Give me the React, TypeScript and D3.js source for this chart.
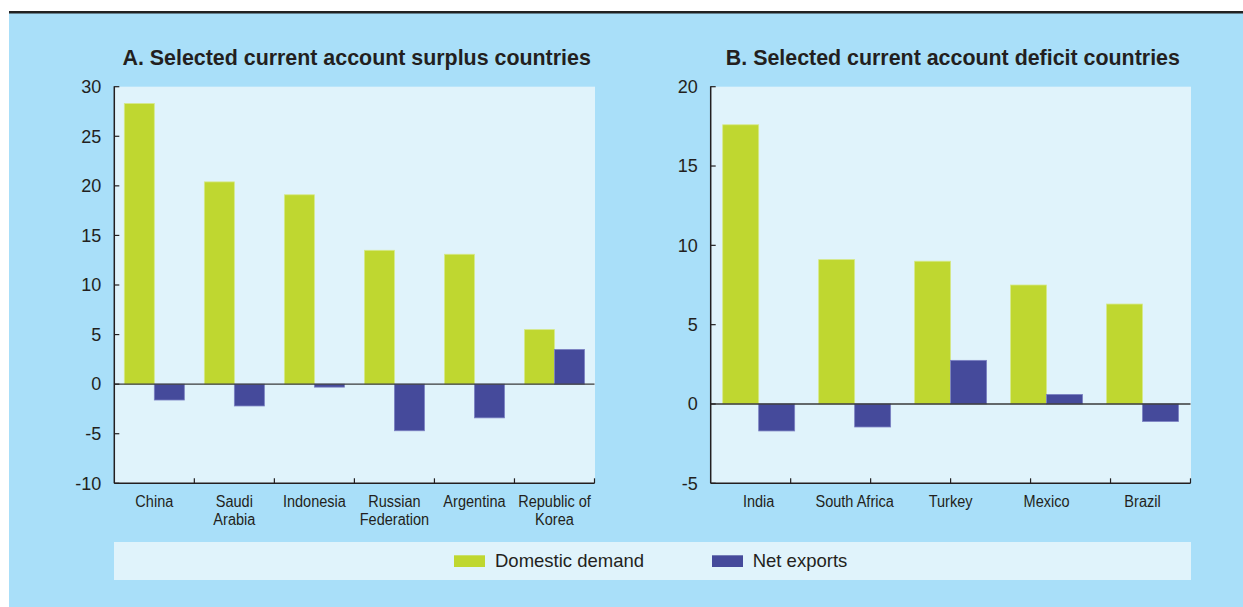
import React from "react";
import * as d3 from "d3";

const categoriesA = ["China", "Saudi\nArabia", "Indonesia", "Russian\nFederation", "Argentina", "Republic of\nKorea"];
const domesticA = [28.3, 20.4, 19.1, 13.5, 13.1, 5.5];
const netExportsA = [-1.6, -2.2, -0.3, -4.7, -3.4, 3.5];
const ticksA = [-10, -5, 0, 5, 10, 15, 20, 25, 30];

const categoriesB = ["India", "South Africa", "Turkey", "Mexico", "Brazil"];
const domesticB = [17.6, 9.1, 9.0, 7.5, 6.3];
const netExportsB = [-1.7, -1.45, 2.75, 0.6, -1.1];
const ticksB = [-5, 0, 5, 10, 15, 20];

const seriesNames = ["Domestic demand", "Net exports"];
const titleA = "A. Selected current account surplus countries";
const titleB = "B. Selected current account deficit countries";

const C = {
  outer: "#a9dff9",
  plot: "#e0f3fb",
  green: "#bfd730",
  greenEdge: "#d6e98a",
  navy: "#454a9b",
  navyEdge: "#7b80c2",
  text: "#231f20",
};
const FONT = "'Liberation Sans', Arial, sans-serif";

type PanelProps = {
  title: string;
  cats: string[];
  dom: number[];
  net: number[];
  ticks: number[];
  x0: number;
  x1: number;
  bgRight: number;
  y0: number;
  y1: number;
  nTickIntervals: number;
};

function Panel(p: PanelProps) {
  const y = d3.scaleLinear().domain([p.ticks[0], p.ticks[p.ticks.length - 1]]).range([p.y1, p.y0]);
  const x = d3.scaleBand<string>().domain(p.cats).range([p.x0, p.x1]).paddingInner(0.25).paddingOuter(0.125);
  const xs = d3.scaleBand<string>().domain(seriesNames).range([0, x.bandwidth()]);
  const tickX = d3.scaleLinear().domain([0, p.nTickIntervals]).range([p.x0, p.x1]);
  const tickIdx = d3.range(1, p.nTickIntervals + 1);
  const y0v = y(0);
  const bar = (c: string, v: number, s: string, fill: string, edge: string) => {
    const top = Math.min(y(v), y0v);
    const h = Math.abs(y(v) - y0v);
    return (
      <rect key={c + s} x={(x(c) as number) + (xs(s) as number)} y={top} width={xs.bandwidth()} height={h}
        fill={fill} stroke={edge} strokeWidth={0.8} />
    );
  };
  return (
    <g>
      <rect x={p.x0} y={p.y0} width={p.bgRight - p.x0} height={p.y1 - p.y0} fill={C.plot} />
      <text x={(p.x0 + p.bgRight) / 2 + 2} y={65} textAnchor="middle" fontFamily={FONT} fontWeight="bold"
        fontSize={21.4} fill={C.text}>{p.title}</text>
      {p.cats.map((c, i) => bar(c, p.dom[i], seriesNames[0], C.green, C.greenEdge))}
      {p.cats.map((c, i) => bar(c, p.net[i], seriesNames[1], C.navy, C.navyEdge))}
      <line x1={p.x0} x2={p.x1} y1={y0v} y2={y0v} stroke="#3a3a3a" strokeWidth={1.3} />
      {/* y axis */}
      <line x1={p.x0} x2={p.x0} y1={p.y0 - 0.5} y2={p.y1} stroke="#231f20" strokeWidth={1.5} />
      {p.ticks.map((t) => (
        <g key={t}>
          <line x1={p.x0} x2={p.x0 + 5} y1={y(t)} y2={y(t)} stroke="#231f20" strokeWidth={1.2} />
          <text x={p.x0 - 13} y={y(t)} dy="0.35em" textAnchor="end" fontFamily={FONT} fontSize={18}
            fill={C.text}>{t}</text>
        </g>
      ))}
      {/* x axis */}
      <line x1={p.x0} x2={p.x1} y1={p.y1} y2={p.y1} stroke="#231f20" strokeWidth={1.5} />
      {tickIdx.map((i) => (
        <line key={i} x1={tickX(i)} x2={tickX(i)} y1={p.y1} y2={p.y1 - 5} stroke="#231f20" strokeWidth={1.2} />
      ))}
      {p.cats.map((c) => {
        const lines = c.split("\n");
        const cx = (x(c) as number) + x.bandwidth() / 2;
        return (
          <g key={c}>
            {lines.map((l, j) => (
              <text key={j} transform={`translate(${cx},${506.5 + j * 18}) scale(0.84,1)`} textAnchor="middle"
                fontFamily={FONT} fontSize={17.3} fill={C.text}>{l}</text>
            ))}
          </g>
        );
      })}
    </g>
  );
}

export default function App() {
  const W = 1243, H = 607;
  return (
    <svg width={W} height={H} style={{ position: "absolute", left: 0, top: 0 }}>
      <rect x={0} y={0} width={W} height={H} fill="#ffffff" />
      <rect x={9} y={13} width={W - 9} height={H - 13} fill={C.outer} />
      <rect x={9} y={11} width={W - 9} height={2.5} fill="#222222" />
      <Panel title={titleA} cats={categoriesA} dom={domesticA} net={netExportsA} ticks={ticksA}
        x0={114.3} x1={594.5} bgRight={595} y0={86.7} y1={483.3} nTickIntervals={6} />
      <Panel title={titleB} cats={categoriesB} dom={domesticB} net={netExportsB} ticks={ticksB}
        x0={710.7} x1={1190.5} bgRight={1191} y0={86.7} y1={483.3} nTickIntervals={6} />
      {/* legend */}
      <rect x={114} y={542} width={1191 - 114} height={38} fill={C.plot} />
      <rect x={454} y={555.3} width={31} height={11.7} fill={C.green} />
      <text x={495} y={561} dy="0.35em" fontFamily={FONT} fontSize={18.5} fill={C.text}>{seriesNames[0]}</text>
      <rect x={712} y={555.3} width={31} height={11.7} fill={C.navy} />
      <text x={752.7} y={561} dy="0.35em" fontFamily={FONT} fontSize={18.5} fill={C.text}>{seriesNames[1]}</text>
    </svg>
  );
}
